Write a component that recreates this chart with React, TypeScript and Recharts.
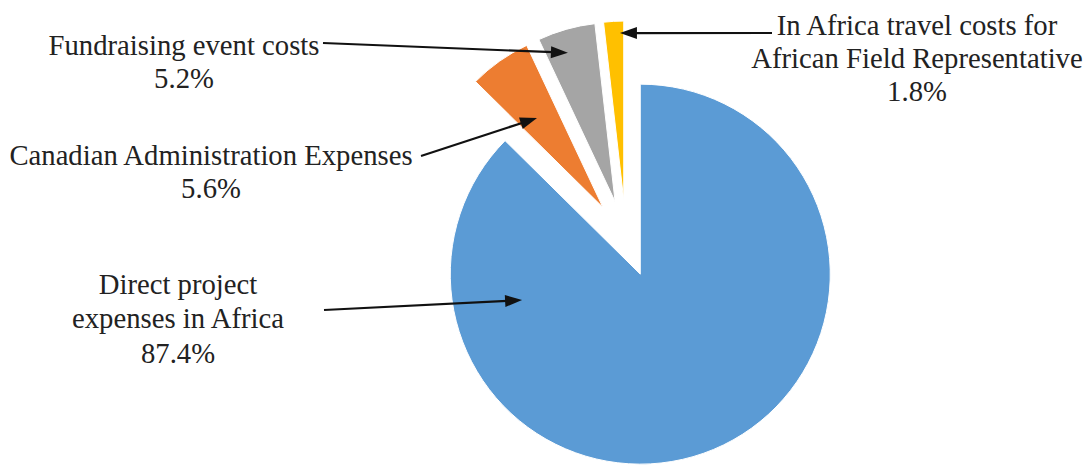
import { Pie, PieChart, Sector } from "recharts";

const categories = [
  "Direct project expenses in Africa",
  "Canadian Administration Expenses",
  "Fundraising event costs",
  "In Africa travel costs for African Field Representative",
];
const shares = [87.4, 5.6, 5.2, 1.8];
const colors = ["#5B9BD5", "#ED7D31", "#A5A5A5", "#FFC000"];

// how the category names are broken over lines in the callouts
const labelLines = [
  ["Direct project", "expenses in Africa"],
  ["Canadian Administration Expenses"],
  ["Fundraising event costs"],
  ["In Africa travel costs for", "African Field Representative"],
];

const data = categories.map((name, i) => ({ name, value: shares[i], fill: colors[i] }));

// explode distance and radius per slice
const sliceStyle = [
  { explode: 37, radius: 190 },
  { explode: 40, radius: 179 },
  { explode: 40, radius: 179 },
  { explode: 40, radius: 179 },
];

// callout placement: text centre, arrow tail, arrow tip as polar point from the slice vertex
const callouts = [
  { x: 178, y: [284, 318, 353], tail: [324, 310], tipAngle: 192.4, tipR: 121 },
  { x: 211, y: [155, 188], tail: [421, 156], tipAngle: 126.4, tipR: 111 },
  { x: 184, y: [45, 78], tail: [323, 43], tipAngle: 107.6, tipR: 156 },
  { x: 917, y: [25, 58, 91], tail: [772, 33], tipAngle: 91.3, tipR: 167 },
];

const RAD = Math.PI / 180;
const polar = (cx: number, cy: number, r: number, a: number) => ({
  x: cx + r * Math.cos(-a * RAD),
  y: cy + r * Math.sin(-a * RAD),
});

const sliceIndex = (p: any) => {
  const n = p.name ?? p.payload?.name;
  const i = categories.indexOf(n);
  return i >= 0 ? i : p.index ?? 0;
};

function ExplodedSector(props: any) {
  const i = sliceIndex(props);
  const s = sliceStyle[i];
  const o = polar(0, 0, s.explode, props.midAngle);
  return (
    <Sector
      cx={props.cx + o.x}
      cy={props.cy + o.y}
      innerRadius={0}
      outerRadius={s.radius}
      startAngle={props.startAngle}
      endAngle={props.endAngle}
      fill={props.fill}
      stroke="#fff"
      strokeWidth={1}
    />
  );
}

function Callout(props: any) {
  const i = sliceIndex(props);
  const c = callouts[i];
  const s = sliceStyle[i];
  const v = polar(props.cx, props.cy, s.explode, props.midAngle);
  const tip = polar(v.x, v.y, c.tipR, c.tipAngle);
  const [tx, ty] = c.tail;
  const len = Math.hypot(tip.x - tx, tip.y - ty);
  const ux = (tip.x - tx) / len;
  const uy = (tip.y - ty) / len;
  const headL = 17;
  const headW = 6;
  const bx = tip.x - ux * headL;
  const by = tip.y - uy * headL;
  const lines = [...labelLines[i], `${shares[i].toFixed(1)}%`];
  return (
    <g>
      {lines.map((t, k) => (
        <text
          key={k}
          x={c.x}
          y={c.y[k]}
          textAnchor="middle"
          dominantBaseline="central"
          fontFamily="'Liberation Serif', 'Times New Roman', serif"
          fontSize={28.7}
          fill="#222"
        >
          {t}
        </text>
      ))}
      <line x1={tx} y1={ty} x2={bx + ux * 2} y2={by + uy * 2} stroke="#111" strokeWidth={2.2} />
      <polygon
        points={`${tip.x},${tip.y} ${bx - uy * headW},${by + ux * headW} ${bx + uy * headW},${by - ux * headW}`}
        fill="#111"
      />
    </g>
  );
}

export default function App() {
  return (
    <div style={{ position: "absolute", left: 0, top: 0, width: 1088, height: 468, background: "#fff" }}>
      <PieChart width={1088} height={468} margin={{ top: 0, right: 0, bottom: 0, left: 0 }}>
        <Pie
          data={data}
          dataKey="value"
          nameKey="name"
          cx={626}
          cy={240}
          innerRadius={0}
          outerRadius={190}
          startAngle={90}
          endAngle={-270}
          shape={ExplodedSector}
          label={Callout}
          labelLine={false}
          isAnimationActive={false}
        />
      </PieChart>
    </div>
  );
}
